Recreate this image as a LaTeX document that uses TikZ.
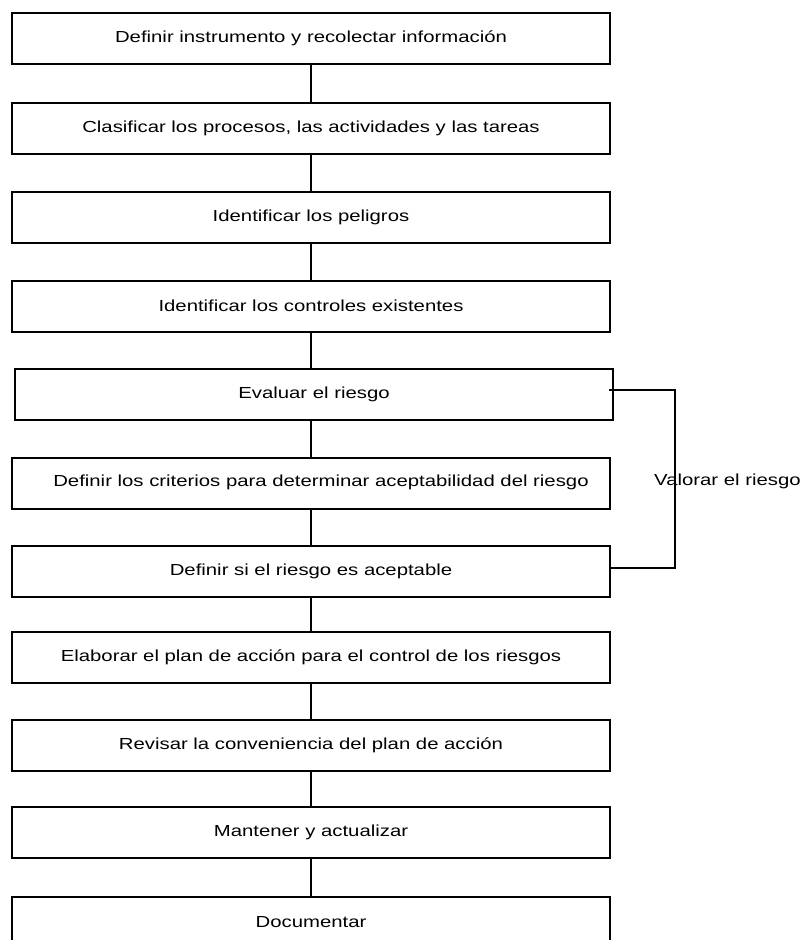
\documentclass[tikz,border=0pt]{standalone}
\usepackage{fontspec}
\setmainfont{Liberation Sans}[FakeStretch=1.27]
\begin{document}
\begin{tikzpicture}[x=1pt,y=-1pt,
  stepbox/.style={draw=black,line width=2pt,minimum width=598pt,minimum height=51pt,
    inner sep=0pt,font=\fontsize{16}{19}\selectfont,text=black},
  conn/.style={draw=black,line width=2pt},
  lbl/.style={font=\fontsize{16}{19}\selectfont,text=black,inner sep=0pt}]
\useasboundingbox[fill=white] (0,0) rectangle (802,940);
\node[stepbox] (b1) at (311,38.5) {Definir instrumento y recolectar información};
\node[stepbox] (b2) at (311,128) {Clasificar los procesos, las actividades y las tareas};
\node[stepbox] (b3) at (311,217) {Identificar los peligros};
\node[stepbox] (b4) at (311,306) {Identificar los controles existentes};
\node[stepbox] (b5) at (314,394.5) {Evaluar el riesgo};
\node[stepbox] (b6) at (311,483) {};
\node[lbl] (b6t) at (321,482) {Definir los criterios para determinar aceptabilidad del riesgo};
\node[stepbox] (b7) at (311,571) {Definir si el riesgo es aceptable};
\node[stepbox] (b8) at (311,657.5) {Elaborar el plan de acción para el control de los riesgos};
\node[stepbox] (b9) at (311,745) {Revisar la conveniencia del plan de acción};
\node[stepbox] (b10) at (311,832.5) {Mantener y actualizar};
\node[stepbox,minimum height=53pt] (b11) at (311,923.5) {};
\node[lbl] (b11t) at (311,922) {Documentar};
\draw[conn] (b1.south) -- (b2.north);
\draw[conn] (b2.south) -- (b3.north);
\draw[conn] (b3.south) -- (b4.north);
\draw[conn] (b4.south) -- (b4.south |- b5.north);
\draw[conn] (b4.south |- b5.south) -- (b6.north);
\draw[conn] (b6.south) -- (b7.north);
\draw[conn] (b7.south) -- (b8.north);
\draw[conn] (b8.south) -- (b9.north);
\draw[conn] (b9.south) -- (b10.north);
\draw[conn] (b10.south) -- (b11.north);
\coordinate (v) at (675,0);
\draw[conn] ([xshift=-5pt,yshift=5pt]b5.east) -- ([yshift=5pt]b5.east -| v)
  -- ([yshift=3pt]b7.east -| v) -- ([yshift=3pt]b7.east);
\node[lbl,anchor=west] (val) at (654,481) {Valorar el riesgo};
\end{tikzpicture}
\end{document}
